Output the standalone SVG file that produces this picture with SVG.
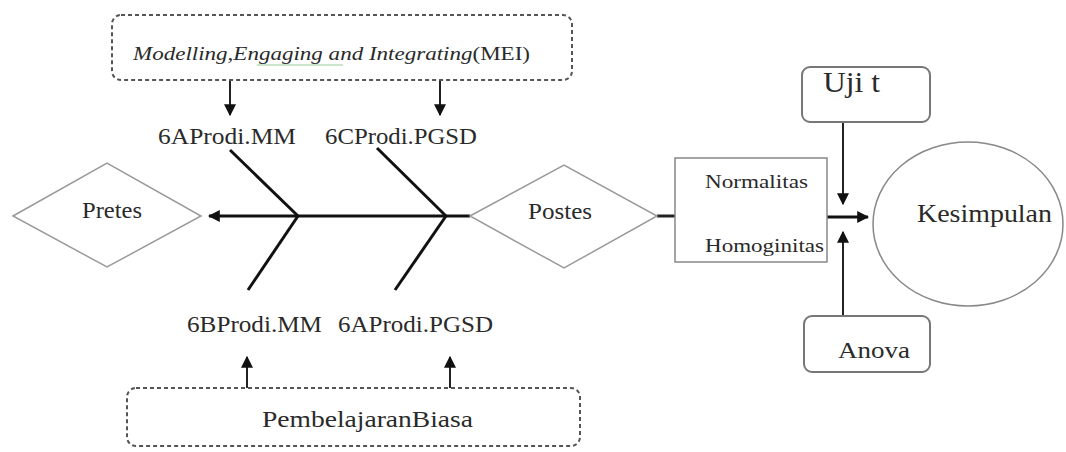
<svg xmlns="http://www.w3.org/2000/svg" width="1066" height="452" viewBox="0 0 1066 452">
<defs>
<marker id="ahs" viewBox="0 0 10 10" refX="9" refY="5" markerWidth="12" markerHeight="12" markerUnits="userSpaceOnUse" orient="auto">
<path d="M0,0 L10,5 L0,10 Z" fill="#111"/>
</marker>
</defs>
<style>
.t{fill:#2a2a2a;}
.dash{fill:#fff;stroke:#555;stroke-width:2;stroke-dasharray:4,3;}
.dia{fill:#fff;stroke:#9a9a9a;stroke-width:1.5;}
.box{fill:#fff;stroke:#888;stroke-width:1.5;}
.rbox{fill:#fff;stroke:#777;stroke-width:2;}
.bone{stroke:#111;stroke-width:3;fill:none;}
.arr{stroke:#222;stroke-width:2;fill:none;}
</style>
<rect width="1066" height="452" fill="#fff"/>

<g id="connectors">
<line class="bone" x1="470" y1="216" x2="209" y2="216" marker-end="url(#ahs)"/>
<line class="bone" x1="230" y1="150" x2="298" y2="216"/>
<line class="bone" x1="298" y1="216" x2="248" y2="290"/>
<line class="bone" x1="377" y1="148" x2="446" y2="216"/>
<line class="bone" x1="446" y1="216" x2="395" y2="290"/>
<line class="arr" x1="230" y1="80" x2="230" y2="115" marker-end="url(#ahs)"/>
<line class="arr" x1="440" y1="80" x2="440" y2="115" marker-end="url(#ahs)"/>
<line class="arr" x1="247" y1="388" x2="247" y2="357" marker-end="url(#ahs)"/>
<line class="arr" x1="450" y1="388" x2="450" y2="357" marker-end="url(#ahs)"/>
<line stroke="#222" stroke-width="3" x1="657" y1="216" x2="675" y2="216"/>
<line stroke="#111" stroke-width="3" x1="827" y1="217" x2="868" y2="217" marker-end="url(#ahs)"/>
<line class="arr" x1="843" y1="122" x2="843" y2="204" marker-end="url(#ahs)"/>
<line class="arr" x1="843" y1="316" x2="843" y2="232" marker-end="url(#ahs)"/>
</g>

<g font-family="'Liberation Serif', 'Times New Roman', 'DejaVu Serif', serif">
<g id="mei">
<rect class="dash" x="112" y="15" width="460" height="65" rx="9"/>
<text class="t" x="133" y="60" font-size="19" textLength="397" lengthAdjust="spacingAndGlyphs"><tspan font-style="italic">Modelling,Engaging and Integrating</tspan>(MEI)</text>
<line x1="257" y1="65" x2="343" y2="65" stroke="#9c9" stroke-width="1"/>
</g>

<g id="lbl-6a-mm"><text class="t" x="158" y="144" font-size="23" textLength="138" lengthAdjust="spacingAndGlyphs">6AProdi.MM</text></g>
<g id="lbl-6c-pgsd"><text class="t" x="325" y="144" font-size="23" textLength="152" lengthAdjust="spacingAndGlyphs">6CProdi.PGSD</text></g>
<g id="lbl-6b-mm"><text class="t" x="187" y="332" font-size="23" textLength="135" lengthAdjust="spacingAndGlyphs">6BProdi.MM</text></g>
<g id="lbl-6a-pgsd"><text class="t" x="338" y="332" font-size="23" textLength="155" lengthAdjust="spacingAndGlyphs">6AProdi.PGSD</text></g>

<g id="pretes">
<polygon class="dia" points="13,216 107,163 201,216 107,267"/>
<text class="t" x="82" y="218" font-size="24" textLength="60" lengthAdjust="spacingAndGlyphs">Pretes</text>
</g>

<g id="postes">
<polygon class="dia" points="470,216 564,165 657,216 564,268"/>
<text class="t" x="528" y="219" font-size="24" textLength="64" lengthAdjust="spacingAndGlyphs">Postes</text>
</g>

<g id="uji">
<rect class="box" x="675" y="158" width="152" height="104"/>
<text class="t" x="705" y="188" font-size="19" textLength="103" lengthAdjust="spacingAndGlyphs">Normalitas</text>
<text class="t" x="705" y="252" font-size="19" textLength="119" lengthAdjust="spacingAndGlyphs">Homoginitas</text>
</g>

<g id="ujit">
<rect class="rbox" x="802" y="67" width="128" height="55" rx="8"/>
<text class="t" x="823" y="92" font-size="30" textLength="57" lengthAdjust="spacingAndGlyphs">Uji t</text>
</g>

<g id="anova">
<rect class="rbox" x="804" y="316" width="126" height="56" rx="8"/>
<text class="t" x="838" y="358" font-size="24" textLength="72" lengthAdjust="spacingAndGlyphs">Anova</text>
</g>

<g id="kesimpulan">
<ellipse cx="968" cy="224" rx="95" ry="82" fill="#fff" stroke="#888" stroke-width="1.5"/>
<text class="t" x="917" y="222" font-size="25" textLength="135" lengthAdjust="spacingAndGlyphs">Kesimpulan</text>
</g>

<g id="biasa">
<rect class="dash" x="127" y="388" width="453" height="58" rx="9"/>
<text class="t" x="262" y="427" font-size="24" textLength="211" lengthAdjust="spacingAndGlyphs">PembelajaranBiasa</text>
</g>
</g>
</svg>
